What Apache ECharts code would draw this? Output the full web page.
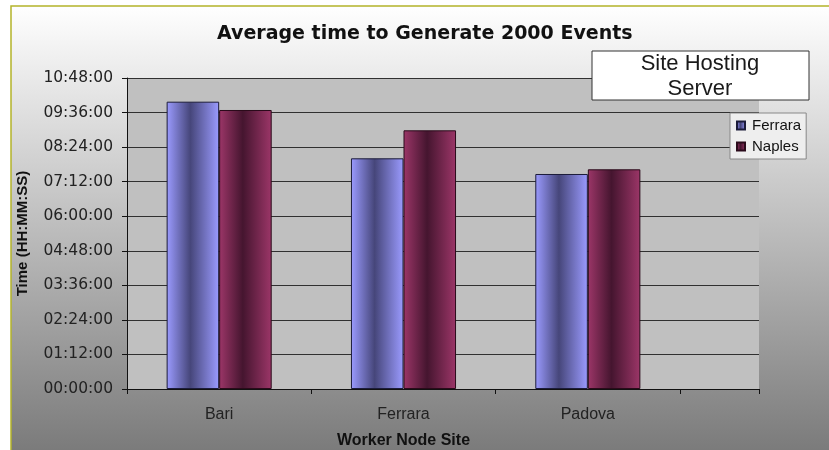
<!DOCTYPE html>
<html>
<head>
<meta charset="utf-8">
<script src="https://cdn.jsdelivr.net/npm/echarts@6/dist/echarts.min.js"></script>
<style>
  html, body { margin: 0; padding: 0; background: #ffffff; }
  #chart { width: 829px; height: 450px; }
</style>
</head>
<body>
<div id="chart"></div>
<script>
// Worker node sites on the category axis
const categories = ['Bari', 'Ferrara', 'Padova'];
// Hosting servers (series)
const seriesNames = ['Ferrara', 'Naples'];
// Average generation time per worker site, HH:MM:SS
const ferraraTimes = ['09:58:40', '08:00:40', '07:28:00'];
const naplesTimes  = ['09:41:20', '08:59:00', '07:37:45'];
// Value axis range and step, HH:MM:SS
const axisMaxTime = '10:48:00';
const axisStepTime = '01:12:00';

function toSeconds(hms) {
  const p = hms.split(':').map(Number);
  return p[0] * 3600 + p[1] * 60 + p[2];
}
function toHMS(sec) {
  const h = Math.floor(sec / 3600);
  const m = Math.floor((sec % 3600) / 60);
  const s = Math.round(sec % 60);
  const pad = n => String(n).padStart(2, '0');
  return pad(h) + ':' + pad(m) + ':' + pad(s);
}

const yMax = toSeconds(axisMaxTime);
const yStep = toSeconds(axisStepTime);

function hGradient(edge, dark) {
  return new echarts.graphic.LinearGradient(0, 0, 1, 0, [
    { offset: 0, color: edge },
    { offset: 0.45, color: dark },
    { offset: 1, color: edge }
  ]);
}
const ferraraFill = hGradient('#9b9bff', '#46467a');
const naplesFill = hGradient('#9c3668', '#45152f');

const chart = echarts.init(document.getElementById('chart'), null, { renderer: 'canvas' });

const option = {
  backgroundColor: '#ffffff',
  animation: false,
  title: {
    text: 'Average time to Generate 2000 Events',
    left: 212,
    top: 20,
    textStyle: { fontFamily: 'DejaVu Sans', fontWeight: 'bold', fontSize: 19, color: '#111111' }
  },
  graphic: [
    {
      type: 'rect',
      z: -10,
      silent: true,
      shape: { x: 11, y: 6, width: 840, height: 460 },
      style: {
        fill: new echarts.graphic.LinearGradient(0, 0, 0, 1, [
          { offset: 0, color: '#ffffff' },
          { offset: 1, color: '#767676' }
        ]),
        stroke: '#b4b42a',
        lineWidth: 1.5
      }
    },
    {
      type: 'rect',
      z: 60,
      silent: true,
      shape: { x: 592, y: 51, width: 217, height: 49 },
      style: { fill: '#ffffff', stroke: '#333333', lineWidth: 1 }
    },
    {
      type: 'text',
      z: 61,
      silent: true,
      style: {
        x: 700, y: 76,
        text: 'Site Hosting\nServer',
        align: 'center',
        verticalAlign: 'middle',
        fontFamily: 'Liberation Sans',
        fontSize: 22,
        lineHeight: 25,
        fill: '#1a1a1a'
      }
    }
  ],
  legend: {
    data: seriesNames,
    orient: 'vertical',
    left: 730,
    top: 113,
    z: 40,
    backgroundColor: '#eeeeee',
    borderColor: '#888888',
    borderWidth: 1,
    borderRadius: 0,
    padding: [5, 5, 5, 6],
    itemGap: 6,
    itemWidth: 8,
    itemHeight: 8,
    icon: 'rect',
    textStyle: { fontFamily: 'Liberation Sans', fontSize: 15, color: '#111111', padding: [0, 0, 0, 2] }
  },
  grid: [
    { left: 127, right: 70, top: 78, bottom: 61, outerBoundsMode: 'none', containLabel: false,
      show: true, backgroundColor: '#c0c0c0', borderWidth: 0 },
    { left: 127, right: 149, top: 78, bottom: 61, outerBoundsMode: 'none', containLabel: false }
  ],
  xAxis: [
    {
      gridIndex: 0,
      type: 'value',
      min: 0, max: 1, interval: 1,
      axisLine: { show: true, lineStyle: { color: '#111111', width: 1 } },
      axisTick: { show: true, length: 5, lineStyle: { color: '#111111' } },
      axisLabel: { show: false },
      splitLine: { show: false }
    },
    {
      gridIndex: 1,
      type: 'category',
      data: categories,
      boundaryGap: true,
      axisLine: { show: false },
      axisTick: {
        show: true, length: 5, lineStyle: { color: '#111111' },
        interval: (i) => i > 0
      },
      axisLabel: { margin: 18, fontFamily: 'Liberation Sans', fontSize: 16, color: '#222222' },
      name: 'Worker Node Site',
      nameLocation: 'middle',
      nameGap: 44,
      nameTextStyle: { fontFamily: 'Liberation Sans', fontWeight: 'bold', fontSize: 16, color: '#111111' }
    }
  ],
  yAxis: [
    {
      gridIndex: 0,
      type: 'value',
      min: 0, max: yMax, interval: yStep,
      axisLine: { show: true, lineStyle: { color: '#111111', width: 1 } },
      axisTick: { show: true, length: 5, lineStyle: { color: '#111111' } },
      axisLabel: {
        margin: 14,
        fontFamily: 'DejaVu Sans', fontSize: 15.5, color: '#222222',
        formatter: (v) => toHMS(v)
      },
      splitLine: { show: true, lineStyle: { color: '#303030', width: 1 } },
      name: 'Time (HH:MM:SS)',
      nameLocation: 'middle',
      nameGap: 97,
      nameTextStyle: { fontFamily: 'Liberation Sans', fontWeight: 'bold', fontSize: 15, color: '#111111' }
    },
    {
      gridIndex: 1,
      type: 'value',
      min: 0, max: yMax, interval: yStep,
      show: false
    }
  ],
  series: [
    {
      name: seriesNames[0],
      type: 'bar',
      xAxisIndex: 1,
      yAxisIndex: 1,
      barGap: '0%',
      barCategoryGap: '43%',
      data: ferraraTimes.map(toSeconds),
      itemStyle: { color: ferraraFill, borderColor: '#1c1c3a', borderWidth: 1 }
    },
    {
      name: seriesNames[1],
      type: 'bar',
      xAxisIndex: 1,
      yAxisIndex: 1,
      barGap: '0%',
      barCategoryGap: '43%',
      data: naplesTimes.map(toSeconds),
      itemStyle: { color: naplesFill, borderColor: '#2a0a1a', borderWidth: 1 }
    }
  ]
};

chart.setOption(option);
</script>
</body>
</html>
